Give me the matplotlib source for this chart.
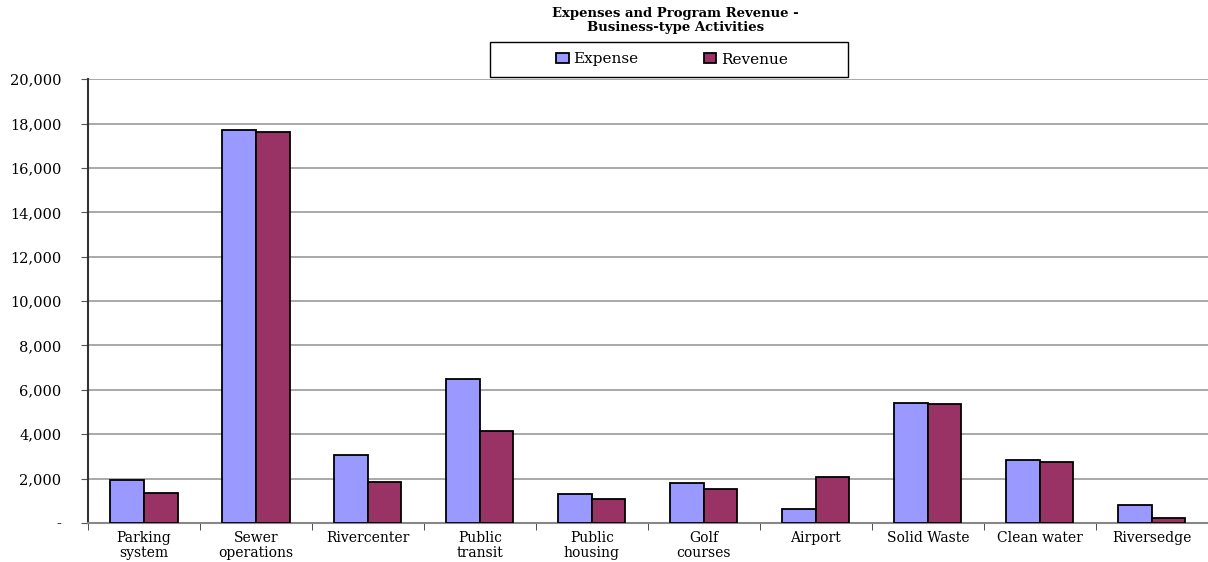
import numpy as np
import matplotlib.pyplot as plt
from matplotlib.patches import Rectangle
from matplotlib.ticker import FuncFormatter

categorias = ['Parking\nsystem', 'Sewer\noperations', 'Rivercenter', 'Public\ntransit',
              'Public\nhousing', 'Golf\ncourses', 'Airport', 'Solid Waste',
              'Clean water', 'Riversedge']
gastos = [1950, 17700, 3060, 6490, 1300, 1800, 630, 5400, 2840, 810]
ingresos = [1350, 17600, 1850, 4140, 1080, 1530, 2070, 5360, 2750, 230]

plt.rcParams['font.family'] = ['DejaVu Serif']

fig = plt.figure(figsize=(12.08, 5.62), dpi=100)
ax = fig.add_axes([0.0728, 0.0694, 0.927, 0.7896])

x = np.arange(len(categorias))
ancho = 0.3
ax.bar(x - ancho / 2, gastos, ancho, color='#9999FF', edgecolor='black',
       linewidth=1.3, label='Expense', zorder=3)
ax.bar(x + ancho / 2, ingresos, ancho, color='#993366', edgecolor='black',
       linewidth=1.3, label='Revenue', zorder=3)

ax.set_xlim(-0.5, len(categorias) - 0.5)
ax.set_ylim(0, 20000)
ax.set_yticks(np.arange(0, 20001, 2000))
ax.yaxis.set_major_formatter(FuncFormatter(lambda v, p: '-' if v == 0 else f'{int(v):,}'))
ax.yaxis.grid(True, color='#999999', linewidth=1.2, zorder=0)
ax.tick_params(axis='y', length=5, color='#555555', labelsize=10.5, pad=14)

ax.set_xticks(x)
ax.set_xticklabels(categorias, fontsize=10, linespacing=1.1)
ax.tick_params(axis='x', which='major', length=0, pad=6)
ax.set_xticks(np.arange(-0.5, len(categorias), 1.0), minor=True)
ax.tick_params(axis='x', which='minor', length=5, color='#333333', direction='out')

for lado in ['top', 'right']:
    ax.spines[lado].set_visible(False)
ax.spines['left'].set_color('#333333')
ax.spines['left'].set_linewidth(1.5)
ax.spines['bottom'].set_color('#888888')
ax.spines['bottom'].set_linewidth(1.5)

fig.text(0.559, 0.988, 'Expenses and Program Revenue -\nBusiness-type Activities',
         ha='center', va='top', fontsize=9.5, fontweight='bold', linespacing=1.15)

# caja de la leyenda
fig.patches.append(Rectangle((490 / 1208, 1 - 77 / 562), 358 / 1208, 35 / 562,
                             transform=fig.transFigure, facecolor='white',
                             edgecolor='black', linewidth=1.0, zorder=5))
leg = fig.legend(loc='center', bbox_to_anchor=(672 / 1208, 1 - 59.5 / 562),
                 ncol=2, fontsize=11, frameon=False, handlelength=0.8,
                 handleheight=0.6, handletextpad=0.3, columnspacing=4.3,
                 borderaxespad=0)
leg.set_zorder(6)

fig.savefig('out.png', dpi=100)
